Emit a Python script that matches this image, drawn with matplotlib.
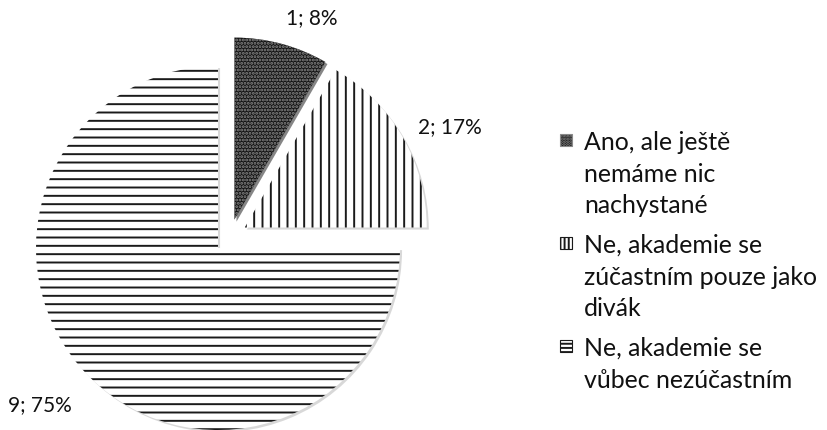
import matplotlib
matplotlib.use('Agg')
import matplotlib.pyplot as plt
from matplotlib.patches import Rectangle

# odpovedi a pocty
answers = ['Ano, ale ještě\nnemáme nic\nnachystané',
           'Ne, akademie se\nzúčastním pouze jako\ndivák',
           'Ne, akademie se\nvůbec nezúčastním']
counts = [1, 2, 9]

hatches = ['.....', '||', '--']
leg_hatches = ['......', '||||', '----']
faces = ['#141414', 'white', 'white']
hatch_cols = ['#8a8a8a', '#1a1a1a', '#1a1a1a']

plt.rcParams['font.family'] = ['Lato', 'DejaVu Sans']
plt.rcParams['hatch.linewidth'] = 1.4

fig = plt.figure(figsize=(8.28, 4.31), dpi=100)
ax = fig.add_axes([0, 0, 1, 1])

total = sum(counts)
# kolac v pixelech obrazku
wedges, _ = ax.pie(counts, center=(230, 194), radius=182, startangle=90,
                   counterclock=False, explode=[17] * 3, colors=faces,
                   wedgeprops=dict(linewidth=0),
                   shadow=dict(ox=1.5, oy=-1.5, shade=0.3, alpha=0.5))
for w, h, c in zip(wedges, hatches, hatch_cols):
    w.set_hatch(h)
    w.set_edgecolor(c)

# popisky dat
label_xy = [(312, 413), (450, 304), (40, 26)]
for n, (x, y) in zip(counts, label_xy):
    ax.text(x, y, f'{n}; {round(100 * n / total)}%', ha='center', va='center',
            fontsize=15, color='#111111')

# legenda rucne, znacka u prvniho radku
pitch = 31
top = 431 - 131
for txt, f, h, c in zip(answers, faces, leg_hatches, hatch_cols):
    ax.text(584, top, txt, ha='left', va='top', fontsize=17.9,
            linespacing=1.46, color='#111111')
    ax.add_patch(Rectangle((560, top - 16), 12, 12, facecolor=f, edgecolor=c,
                           hatch=h, linewidth=0.8))
    top -= txt.count('\n') * pitch + pitch + 10

ax.set_xlim(0, 828)
ax.set_ylim(0, 431)
ax.set_aspect('equal')
ax.axis('off')

fig.savefig('out.png', dpi=100)
